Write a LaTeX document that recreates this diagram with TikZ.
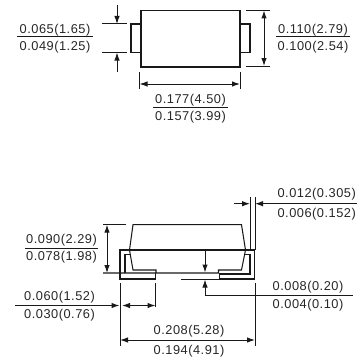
\documentclass[tikz,border=0pt]{standalone}
\usepackage{fontspec}
\setmainfont{Liberation Sans}
\usetikzlibrary{arrows.meta}
\tikzset{
  x=1pt,y=-1pt,
  part/.style={draw=black!90,line width=1.05pt,line join=miter},
  dim/.style={draw=black!90,line width=1pt},
  arr/.style={dim,-{Latex[length=8pt,width=5.5pt]}},
  arrs/.style={dim,{Latex[length=8pt,width=5.5pt]}-{Latex[length=8pt,width=5.5pt]}},
  lbl/.style={inner sep=0pt,text=black!85,font=\fontsize{12.8}{14}\selectfont\addfontfeature{LetterSpace=4}}
}
\begin{document}
\begin{tikzpicture}
\useasboundingbox (0,0) rectangle (363,361);
% top view
\draw[part] (141,10.5) rectangle (240,67);
\draw[part] (141,24) -- (131,24) -- (131,52.5) -- (141,52.5);
\draw[part] (240,24) -- (250,24) -- (250,52.5) -- (240,52.5);
\coordinate (a1) at (102,24); \coordinate (a2) at (127,24);
\coordinate (a3) at (102,52.5); \coordinate (a4) at (127,52.5);
\draw[dim] (a1) -- (a2); \draw[dim] (a3) -- (a4);
\coordinate (t1) at (117,5); \coordinate (t2) at (117,24);
\coordinate (t3) at (117,71.5); \coordinate (t4) at (117,52.5);
\draw[arr] (t1) -- (t2); \draw[arr] (t3) -- (t4);
\coordinate (b1) at (246,10.5); \coordinate (b2) at (270,10.5);
\coordinate (b3) at (246,66); \coordinate (b4) at (270,66);
\draw[dim] (b1) -- (b2); \draw[dim] (b3) -- (b4);
\coordinate (b5) at (264,10.5); \coordinate (b6) at (264,66);
\draw[arrs] (b5) -- (b6);
\coordinate (c1) at (139.5,72); \coordinate (c2) at (139.5,89);
\coordinate (c3) at (240,72); \coordinate (c4) at (240,89);
\draw[dim] (c1) -- (c2); \draw[dim] (c3) -- (c4);
\coordinate (c5) at (139.5,84); \coordinate (c6) at (240,84);
\draw[arrs] (c5) -- (c6);
\coordinate (l1) at (17,37); \coordinate (l2) at (93,37); \draw[dim] (l1) -- (l2);
\coordinate (l3) at (276,37); \coordinate (l4) at (350,37); \draw[dim] (l3) -- (l4);
\coordinate (l5) at (153,107); \coordinate (l6) at (228,107); \draw[dim] (l5) -- (l6);
\node[lbl] (n1) at (55,30.5) {0.065(1.65)};
\node[lbl] (n2) at (55,47) {0.049(1.25)};
\node[lbl] (n3) at (313,30.5) {0.110(2.79)};
\node[lbl] (n4) at (313,47) {0.100(2.54)};
\node[lbl] (n5) at (190.5,100.5) {0.177(4.50)};
\node[lbl] (n6) at (190.5,117) {0.157(3.99)};
% side view
\draw[part] (103,273) -- (156,273) -- (156,270) -- (133,270) -- (129.5,250) -- (133,224.7) -- (241.5,224.7) -- (245.5,250) -- (241.5,270) -- (218.5,270) -- (218.5,273) -- (156,273);
\draw[part] (155.5,273) -- (155.5,279) -- (120,279) -- (120,250) -- (254.5,250) -- (254.5,279) -- (219.5,279) -- (219.5,274) -- (250,274) -- (250,254.5) -- (244.5,254.5);
\draw[part] (125,273) -- (125,254.5) -- (130,254.5);
\coordinate (d1) at (103,224.7); \coordinate (d2) at (126,224.7); \draw[dim] (d1) -- (d2);
\coordinate (d3) at (107,224.7); \coordinate (d4) at (107,273); \draw[arrs] (d3) -- (d4);
\coordinate (e1) at (250,197); \coordinate (e2) at (250,250); \draw[dim] (e1) -- (e2);
\coordinate (e3) at (255,197); \coordinate (e4) at (255,250); \draw[dim] (e3) -- (e4);
\coordinate (e5) at (234,203.7); \coordinate (e6) at (250,203.7); \draw[arr] (e5) -- (e6);
\coordinate (e7) at (357,203.7); \coordinate (e8) at (255,203.7); \draw[arr] (e7) -- (e8);
\coordinate (f1) at (205,250); \coordinate (f2) at (205,272.5); \draw[arr] (f1) -- (f2);
\coordinate (f3) at (181,279); \coordinate (f4) at (219,279); \draw[dim] (f3) -- (f4);
\coordinate (f5) at (353,295.7); \coordinate (f6) at (205,295.7); \coordinate (f7) at (205,279.5);
\draw[arr] (f5) -- (f6) -- (f7);
\coordinate (g1) at (120,283); \coordinate (g2) at (120,346); \draw[dim] (g1) -- (g2);
\coordinate (g3) at (155.5,283); \coordinate (g4) at (155.5,307); \draw[dim] (g3) -- (g4);
\coordinate (g5) at (255,283); \coordinate (g6) at (255,346); \draw[dim] (g5) -- (g6);
\coordinate (g7) at (15,305.5); \coordinate (g8) at (119.5,305.5); \draw[arr] (g7) -- (g8);
\coordinate (g9) at (122,305.5); \coordinate (g10) at (155.5,305.5); \draw[arrs] (g9) -- (g10);
\coordinate (g11) at (120,340); \coordinate (g12) at (255,340); \draw[arrs] (g11) -- (g12);
\coordinate (l7) at (25,248.5); \coordinate (l8) at (98,248.5); \draw[dim] (l7) -- (l8);
\node[lbl] (n7) at (61.5,240.5) {0.090(2.29)};
\node[lbl] (n8) at (61.5,257) {0.078(1.98)};
\node[lbl] (n9) at (59.5,297) {0.060(1.52)};
\node[lbl] (n10) at (59.5,315.5) {0.030(0.76)};
\node[lbl] (n11) at (189,331) {0.208(5.28)};
\node[lbl] (n12) at (189,351) {0.194(4.91)};
\node[lbl] (n13) at (308,287) {0.008(0.20)};
\node[lbl] (n14) at (308,305.5) {0.004(0.10)};
\node[lbl] (n15) at (316.7,194) {0.012(0.305)};
\node[lbl] (n16) at (316.7,214) {0.006(0.152)};
\end{tikzpicture}
\end{document}
